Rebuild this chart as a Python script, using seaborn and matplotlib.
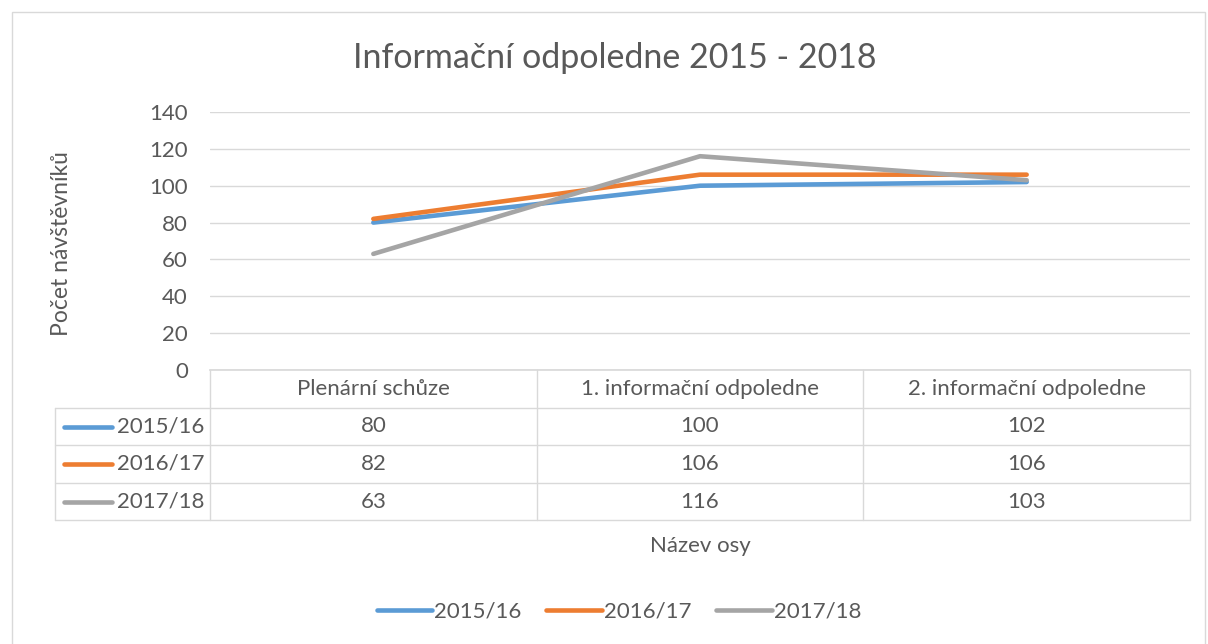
import matplotlib
matplotlib.use('Agg')
import pandas as pd
import seaborn as sns
import matplotlib.pyplot as plt
import matplotlib.transforms as mtransforms
from matplotlib.lines import Line2D
from matplotlib.patches import Rectangle

categories = ['Plenární schůze', '1. informační odpoledne', '2. informační odpoledne']
seasons = ['2015/16', '2016/17', '2017/18']
visitors_1516 = [80, 100, 102]
visitors_1617 = [82, 106, 106]
visitors_1718 = [63, 116, 103]
y_ticks = [0, 20, 40, 60, 80, 100, 120, 140]

colors = ['#5B9BD5', '#ED7D31', '#A5A5A5']
text_color = '#595959'
grid_color = '#D9D9D9'

W, H = 1208, 644


def fx(px):
    return px / W


def fy(py):
    return 1 - py / H


sns.set_theme(style='white')
plt.rcParams['font.family'] = ['Lato', 'DejaVu Sans']

series = [visitors_1516, visitors_1617, visitors_1718]
rows = []
for season, values in zip(seasons, series):
    for i, v in enumerate(values):
        rows.append({'pos': i, 'season': season, 'count': v})
df = pd.DataFrame(rows)

fig = plt.figure(figsize=(W / 100, H / 100), dpi=100)
fig.add_artist(Rectangle((fx(12), fy(660)), fx(1205) - fx(12), fy(12) - fy(660),
                         transform=fig.transFigure, fill=False, edgecolor=grid_color, lw=1))

ax = fig.add_axes([fx(210), fy(370), fx(1190) - fx(210), fy(112) - fy(370)])
sns.lineplot(data=df, x='pos', y='count', hue='season', palette=colors,
             linewidth=3.3, ax=ax, legend=False, solid_capstyle='round')
ax.set_xlim(-0.5, 2.5)
ax.set_ylim(0, 140)
ax.set_yticks(y_ticks)
ax.set_xticks([])
ax.set_xlabel('')
ax.set_ylabel('')
ax.yaxis.grid(True, color=grid_color, lw=1)
ax.set_axisbelow(True)
for s in ['top', 'right', 'left']:
    ax.spines[s].set_visible(False)
ax.spines['bottom'].set_color(grid_color)
ax.tick_params(axis='y', length=0, pad=16, labelsize=16, labelcolor=text_color)

fig.text(fx(615), fy(58), 'Informační odpoledne 2015 - 2018', ha='center', va='center',
         fontsize=24.5, color=text_color)
fig.text(fx(62), fy(244), 'Počet návštěvníků', ha='center', va='center', rotation=90,
         fontsize=16.5, color=text_color)
fig.text(fx(700), fy(546), 'Název osy', ha='center', va='center',
         fontsize=16, color=text_color)

# data table under the plot
tr = mtransforms.blended_transform_factory(ax.transData, fig.transFigure)
row_lines = [408, 445, 483, 520]
for y in row_lines:
    fig.add_artist(Line2D([fx(55), fx(1190)], [fy(y), fy(y)], transform=fig.transFigure,
                          color=grid_color, lw=1))
fig.add_artist(Line2D([fx(55), fx(55)], [fy(408), fy(520)], transform=fig.transFigure,
                      color=grid_color, lw=1))
for xb in [-0.5, 0.5, 1.5, 2.5]:
    fig.add_artist(Line2D([xb, xb], [fy(370), fy(520)], transform=tr,
                          color=grid_color, lw=1))

for i, cat in enumerate(categories):
    fig.text(i, fy(389), cat, transform=tr, ha='center', va='center',
             fontsize=16, color=text_color)

row_centers = [426.5, 464, 501.5]
for season, values, color, yc in zip(seasons, series, colors, row_centers):
    fig.add_artist(Line2D([fx(64), fx(112)], [fy(yc), fy(yc)], transform=fig.transFigure,
                          color=color, lw=3.3, solid_capstyle='round'))
    fig.text(fx(204), fy(yc), season, ha='right', va='center', fontsize=16, color=text_color)
    for i, v in enumerate(values):
        fig.text(i, fy(yc), str(v), transform=tr, ha='center', va='center',
                 fontsize=16, color=text_color)

handles = [Line2D([], [], color=c, lw=3.3, solid_capstyle='round') for c in colors]
fig.legend(handles, seasons, loc='center', bbox_to_anchor=(fx(619), fy(612)), ncol=3,
           frameon=False, fontsize=16, labelcolor=text_color, handlelength=2.5,
           handletextpad=0.1, columnspacing=1.1)

fig.savefig('out.png', dpi=100)
